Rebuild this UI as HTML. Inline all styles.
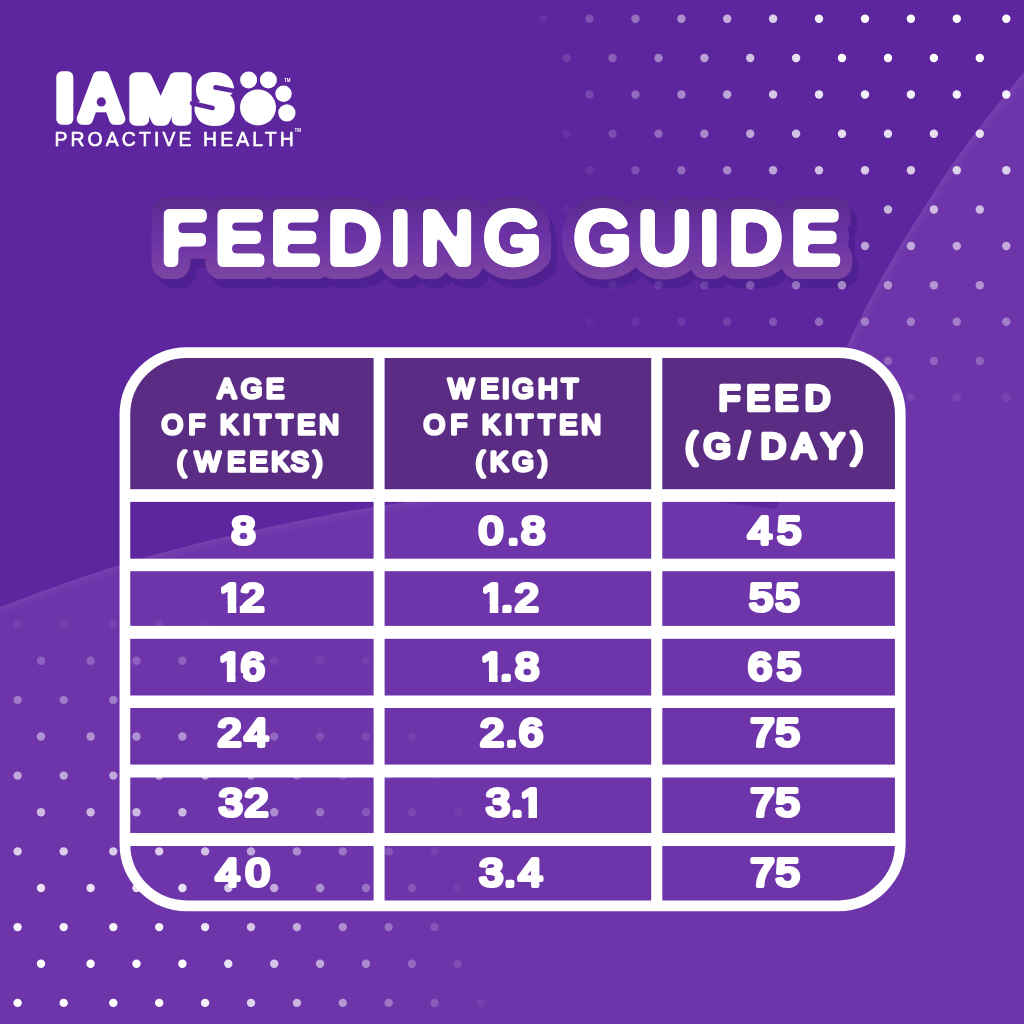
<!DOCTYPE html>
<html lang="en"><head><meta charset="utf-8"><title>IAMS Proactive Health - Feeding Guide</title>
<style>html,body{margin:0;padding:0;background:#5e269e;}body{width:1024px;height:1024px;overflow:hidden}svg text{white-space:pre}</style></head>
<body><svg width="1024" height="1024" viewBox="0 0 1024 1024" style="display:block"><rect width="1024" height="1024" fill="#5e269e"/>
<defs><clipPath id="ca"><path d="M0,607 C60,585 120,560 250,531 C330,514 400,500 470,495 C540,490 620,492 719,502 L776,509 L860,560 L860,1024 L0,1024 Z"/></clipPath><clipPath id="cb"><path d="M1024,72 C986,118 953,160 929,200 C900,243 868,300 847,346 C820,400 795,460 776,509 L760,560 L760,1024 L1024,1024 Z"/></clipPath></defs>
<path d="M0,607 C60,585 120,560 250,531 C330,514 400,500 470,495 C540,490 620,492 719,502 L776,509 L860,560 L860,1024 L0,1024 Z" fill="#6e35ab"/><path d="M1024,72 C986,118 953,160 929,200 C900,243 868,300 847,346 C820,400 795,460 776,509 L760,560 L760,1024 L1024,1024 Z" fill="#6e35ab"/>
<g clip-path="url(#ca)" fill="none" stroke="#fff" stroke-opacity="0.014"><path d="M0,607 C60,585 120,560 250,531 C330,514 400,500 470,495" stroke-width="16"/><path d="M0,607 C60,585 120,560 250,531 C330,514 400,500 470,495" stroke-width="10"/><path d="M0,607 C60,585 120,560 250,531 C330,514 400,500 470,495" stroke-width="6"/><path d="M0,607 C60,585 120,560 250,531 C330,514 400,500 470,495" stroke-width="3"/></g>
<g clip-path="url(#cb)" fill="none" stroke="#fff" stroke-opacity="0.014"><path d="M1024,72 C986,118 953,160 929,200 C900,243 868,300 847,346" stroke-width="16"/><path d="M1024,72 C986,118 953,160 929,200 C900,243 868,300 847,346" stroke-width="10"/><path d="M1024,72 C986,118 953,160 929,200 C900,243 868,300 847,346" stroke-width="6"/><path d="M1024,72 C986,118 953,160 929,200 C900,243 868,300 847,346" stroke-width="3"/></g>
<g fill="#fff"><circle cx="1006.3" cy="18.8" r="4.2" opacity="1.00"/><circle cx="956.8" cy="18.8" r="4.2" opacity="1.00"/><circle cx="910.9" cy="18.8" r="4.2" opacity="1.00"/><circle cx="865.0" cy="18.8" r="4.2" opacity="1.00"/><circle cx="819.0" cy="18.8" r="4.2" opacity="0.94"/><circle cx="773.1" cy="18.8" r="4.2" opacity="0.79"/><circle cx="727.2" cy="18.8" r="4.2" opacity="0.64"/><circle cx="681.4" cy="18.8" r="4.2" opacity="0.49"/><circle cx="635.5" cy="18.8" r="4.2" opacity="0.34"/><circle cx="589.5" cy="18.8" r="4.2" opacity="0.20"/><circle cx="543.7" cy="18.8" r="4.2" opacity="0.05"/><circle cx="979.8" cy="58.0" r="4.2" opacity="1.00"/><circle cx="933.9" cy="58.0" r="4.2" opacity="1.00"/><circle cx="888.0" cy="58.0" r="4.2" opacity="1.00"/><circle cx="842.0" cy="58.0" r="4.2" opacity="1.00"/><circle cx="796.1" cy="58.0" r="4.2" opacity="0.86"/><circle cx="750.2" cy="58.0" r="4.2" opacity="0.71"/><circle cx="704.4" cy="58.0" r="4.2" opacity="0.57"/><circle cx="658.5" cy="58.0" r="4.2" opacity="0.42"/><circle cx="612.5" cy="58.0" r="4.2" opacity="0.27"/><circle cx="566.7" cy="58.0" r="4.2" opacity="0.12"/><circle cx="1006.3" cy="94.5" r="4.2" opacity="0.94"/><circle cx="956.8" cy="94.5" r="4.2" opacity="0.94"/><circle cx="910.9" cy="94.5" r="4.2" opacity="0.94"/><circle cx="865.0" cy="94.5" r="4.2" opacity="0.94"/><circle cx="819.0" cy="94.5" r="4.2" opacity="0.88"/><circle cx="773.1" cy="94.5" r="4.2" opacity="0.74"/><circle cx="727.2" cy="94.5" r="4.2" opacity="0.59"/><circle cx="681.4" cy="94.5" r="4.2" opacity="0.45"/><circle cx="635.5" cy="94.5" r="4.2" opacity="0.31"/><circle cx="589.5" cy="94.5" r="4.2" opacity="0.16"/><circle cx="979.8" cy="133.8" r="4.2" opacity="0.85"/><circle cx="933.9" cy="133.8" r="4.2" opacity="0.85"/><circle cx="888.0" cy="133.8" r="4.2" opacity="0.85"/><circle cx="842.0" cy="133.8" r="4.2" opacity="0.85"/><circle cx="796.1" cy="133.8" r="4.2" opacity="0.73"/><circle cx="750.2" cy="133.8" r="4.2" opacity="0.59"/><circle cx="704.4" cy="133.8" r="4.2" opacity="0.45"/><circle cx="658.5" cy="133.8" r="4.2" opacity="0.31"/><circle cx="612.5" cy="133.8" r="4.2" opacity="0.18"/><circle cx="566.7" cy="133.8" r="4.2" opacity="0.05"/><circle cx="1006.3" cy="170.2" r="4.2" opacity="0.77"/><circle cx="956.8" cy="170.2" r="4.2" opacity="0.77"/><circle cx="910.9" cy="170.2" r="4.2" opacity="0.77"/><circle cx="865.0" cy="170.2" r="4.2" opacity="0.77"/><circle cx="819.0" cy="170.2" r="4.2" opacity="0.71"/><circle cx="773.1" cy="170.2" r="4.2" opacity="0.58"/><circle cx="727.2" cy="170.2" r="4.2" opacity="0.45"/><circle cx="681.4" cy="170.2" r="4.2" opacity="0.32"/><circle cx="635.5" cy="170.2" r="4.2" opacity="0.19"/><circle cx="589.5" cy="170.2" r="4.2" opacity="0.07"/><circle cx="979.8" cy="209.5" r="4.2" opacity="0.67"/><circle cx="933.9" cy="209.5" r="4.2" opacity="0.67"/><circle cx="888.0" cy="209.5" r="4.2" opacity="0.67"/><circle cx="842.0" cy="209.5" r="4.2" opacity="0.67"/><circle cx="796.1" cy="209.5" r="4.2" opacity="0.55"/><circle cx="750.2" cy="209.5" r="4.2" opacity="0.43"/><circle cx="704.4" cy="209.5" r="4.2" opacity="0.31"/><circle cx="658.5" cy="209.5" r="4.2" opacity="0.18"/><circle cx="612.5" cy="209.5" r="4.2" opacity="0.09"/><circle cx="566.7" cy="209.5" r="4.2" opacity="0.04"/><circle cx="1006.3" cy="246.0" r="4.2" opacity="0.58"/><circle cx="956.8" cy="246.0" r="4.2" opacity="0.58"/><circle cx="910.9" cy="246.0" r="4.2" opacity="0.58"/><circle cx="865.0" cy="246.0" r="4.2" opacity="0.58"/><circle cx="819.0" cy="246.0" r="4.2" opacity="0.53"/><circle cx="773.1" cy="246.0" r="4.2" opacity="0.41"/><circle cx="727.2" cy="246.0" r="4.2" opacity="0.29"/><circle cx="681.4" cy="246.0" r="4.2" opacity="0.18"/><circle cx="635.5" cy="246.0" r="4.2" opacity="0.10"/><circle cx="589.5" cy="246.0" r="4.2" opacity="0.06"/><circle cx="979.8" cy="285.2" r="4.2" opacity="0.47"/><circle cx="933.9" cy="285.2" r="4.2" opacity="0.47"/><circle cx="888.0" cy="285.2" r="4.2" opacity="0.47"/><circle cx="1006.3" cy="321.8" r="4.2" opacity="0.36"/><circle cx="956.8" cy="321.8" r="4.2" opacity="0.36"/><circle cx="910.9" cy="321.8" r="4.2" opacity="0.36"/><circle cx="865.0" cy="321.8" r="4.2" opacity="0.36"/><circle cx="819.0" cy="321.8" r="4.2" opacity="0.32"/><circle cx="773.1" cy="321.8" r="4.2" opacity="0.22"/><circle cx="727.2" cy="321.8" r="4.2" opacity="0.12"/><circle cx="681.4" cy="321.8" r="4.2" opacity="0.09"/><circle cx="635.5" cy="321.8" r="4.2" opacity="0.06"/><circle cx="589.5" cy="321.8" r="4.2" opacity="0.04"/><circle cx="979.8" cy="361.0" r="4.2" opacity="0.23"/><circle cx="933.9" cy="361.0" r="4.2" opacity="0.23"/><circle cx="888.0" cy="361.0" r="4.2" opacity="0.23"/><circle cx="842.0" cy="361.0" r="4.2" opacity="0.23"/><circle cx="796.1" cy="361.0" r="4.2" opacity="0.15"/><circle cx="750.2" cy="361.0" r="4.2" opacity="0.08"/><circle cx="704.4" cy="361.0" r="4.2" opacity="0.07"/><circle cx="658.5" cy="361.0" r="4.2" opacity="0.05"/><circle cx="612.5" cy="361.0" r="4.2" opacity="0.03"/><circle cx="1006.3" cy="397.5" r="4.2" opacity="0.08"/><circle cx="956.8" cy="397.5" r="4.2" opacity="0.08"/><circle cx="910.9" cy="397.5" r="4.2" opacity="0.08"/><circle cx="865.0" cy="397.5" r="4.2" opacity="0.08"/><circle cx="819.0" cy="397.5" r="4.2" opacity="0.04"/><circle cx="773.1" cy="397.5" r="4.2" opacity="0.03"/><circle cx="17.6" cy="1002.9" r="4.2" opacity="1.00"/><circle cx="63.7" cy="1002.9" r="4.2" opacity="1.00"/><circle cx="113.3" cy="1002.9" r="4.2" opacity="1.00"/><circle cx="159.2" cy="1002.9" r="4.2" opacity="1.00"/><circle cx="205.1" cy="1002.9" r="4.2" opacity="0.94"/><circle cx="251.0" cy="1002.9" r="4.2" opacity="0.79"/><circle cx="296.9" cy="1002.9" r="4.2" opacity="0.64"/><circle cx="342.8" cy="1002.9" r="4.2" opacity="0.49"/><circle cx="388.7" cy="1002.9" r="4.2" opacity="0.34"/><circle cx="434.6" cy="1002.9" r="4.2" opacity="0.19"/><circle cx="480.5" cy="1002.9" r="4.2" opacity="0.05"/><circle cx="41.0" cy="963.8" r="4.2" opacity="1.00"/><circle cx="90.6" cy="963.8" r="4.2" opacity="1.00"/><circle cx="136.5" cy="963.8" r="4.2" opacity="1.00"/><circle cx="182.4" cy="963.8" r="4.2" opacity="1.00"/><circle cx="228.3" cy="963.8" r="4.2" opacity="0.86"/><circle cx="274.2" cy="963.8" r="4.2" opacity="0.71"/><circle cx="320.1" cy="963.8" r="4.2" opacity="0.56"/><circle cx="366.0" cy="963.8" r="4.2" opacity="0.42"/><circle cx="411.9" cy="963.8" r="4.2" opacity="0.27"/><circle cx="457.8" cy="963.8" r="4.2" opacity="0.12"/><circle cx="17.6" cy="927.1" r="4.2" opacity="0.94"/><circle cx="63.7" cy="927.1" r="4.2" opacity="0.94"/><circle cx="113.3" cy="927.1" r="4.2" opacity="0.94"/><circle cx="159.2" cy="927.1" r="4.2" opacity="0.94"/><circle cx="205.1" cy="927.1" r="4.2" opacity="0.88"/><circle cx="251.0" cy="927.1" r="4.2" opacity="0.73"/><circle cx="296.9" cy="927.1" r="4.2" opacity="0.59"/><circle cx="342.8" cy="927.1" r="4.2" opacity="0.44"/><circle cx="388.7" cy="927.1" r="4.2" opacity="0.30"/><circle cx="434.6" cy="927.1" r="4.2" opacity="0.16"/><circle cx="41.0" cy="888.0" r="4.2" opacity="0.85"/><circle cx="90.6" cy="888.0" r="4.2" opacity="0.85"/><circle cx="136.5" cy="888.0" r="4.2" opacity="0.85"/><circle cx="182.4" cy="888.0" r="4.2" opacity="0.85"/><circle cx="228.3" cy="888.0" r="4.2" opacity="0.72"/><circle cx="274.2" cy="888.0" r="4.2" opacity="0.58"/><circle cx="320.1" cy="888.0" r="4.2" opacity="0.45"/><circle cx="366.0" cy="888.0" r="4.2" opacity="0.31"/><circle cx="411.9" cy="888.0" r="4.2" opacity="0.17"/><circle cx="457.8" cy="888.0" r="4.2" opacity="0.05"/><circle cx="17.6" cy="851.4" r="4.2" opacity="0.76"/><circle cx="63.7" cy="851.4" r="4.2" opacity="0.76"/><circle cx="113.3" cy="851.4" r="4.2" opacity="0.76"/><circle cx="159.2" cy="851.4" r="4.2" opacity="0.76"/><circle cx="205.1" cy="851.4" r="4.2" opacity="0.70"/><circle cx="251.0" cy="851.4" r="4.2" opacity="0.57"/><circle cx="296.9" cy="851.4" r="4.2" opacity="0.44"/><circle cx="342.8" cy="851.4" r="4.2" opacity="0.31"/><circle cx="388.7" cy="851.4" r="4.2" opacity="0.18"/><circle cx="434.6" cy="851.4" r="4.2" opacity="0.07"/><circle cx="41.0" cy="812.3" r="4.2" opacity="0.66"/><circle cx="90.6" cy="812.3" r="4.2" opacity="0.66"/><circle cx="136.5" cy="812.3" r="4.2" opacity="0.66"/><circle cx="182.4" cy="812.3" r="4.2" opacity="0.66"/><circle cx="228.3" cy="812.3" r="4.2" opacity="0.55"/><circle cx="274.2" cy="812.3" r="4.2" opacity="0.43"/><circle cx="320.1" cy="812.3" r="4.2" opacity="0.30"/><circle cx="366.0" cy="812.3" r="4.2" opacity="0.18"/><circle cx="411.9" cy="812.3" r="4.2" opacity="0.09"/><circle cx="457.8" cy="812.3" r="4.2" opacity="0.04"/><circle cx="17.6" cy="775.6" r="4.2" opacity="0.57"/><circle cx="63.7" cy="775.6" r="4.2" opacity="0.57"/><circle cx="113.3" cy="775.6" r="4.2" opacity="0.57"/><circle cx="159.2" cy="775.6" r="4.2" opacity="0.57"/><circle cx="205.1" cy="775.6" r="4.2" opacity="0.52"/><circle cx="251.0" cy="775.6" r="4.2" opacity="0.40"/><circle cx="296.9" cy="775.6" r="4.2" opacity="0.29"/><circle cx="342.8" cy="775.6" r="4.2" opacity="0.17"/><circle cx="388.7" cy="775.6" r="4.2" opacity="0.10"/><circle cx="434.6" cy="775.6" r="4.2" opacity="0.06"/><circle cx="41.0" cy="736.5" r="4.2" opacity="0.46"/><circle cx="90.6" cy="736.5" r="4.2" opacity="0.46"/><circle cx="136.5" cy="736.5" r="4.2" opacity="0.46"/><circle cx="182.4" cy="736.5" r="4.2" opacity="0.46"/><circle cx="228.3" cy="736.5" r="4.2" opacity="0.36"/><circle cx="274.2" cy="736.5" r="4.2" opacity="0.25"/><circle cx="320.1" cy="736.5" r="4.2" opacity="0.14"/><circle cx="366.0" cy="736.5" r="4.2" opacity="0.10"/><circle cx="411.9" cy="736.5" r="4.2" opacity="0.06"/><circle cx="17.6" cy="699.9" r="4.2" opacity="0.35"/><circle cx="63.7" cy="699.9" r="4.2" opacity="0.35"/><circle cx="113.3" cy="699.9" r="4.2" opacity="0.35"/><circle cx="159.2" cy="699.9" r="4.2" opacity="0.35"/><circle cx="205.1" cy="699.9" r="4.2" opacity="0.31"/><circle cx="251.0" cy="699.9" r="4.2" opacity="0.21"/><circle cx="296.9" cy="699.9" r="4.2" opacity="0.11"/><circle cx="342.8" cy="699.9" r="4.2" opacity="0.09"/><circle cx="388.7" cy="699.9" r="4.2" opacity="0.06"/><circle cx="434.6" cy="699.9" r="4.2" opacity="0.03"/><circle cx="41.0" cy="660.8" r="4.2" opacity="0.22"/><circle cx="90.6" cy="660.8" r="4.2" opacity="0.22"/><circle cx="136.5" cy="660.8" r="4.2" opacity="0.22"/><circle cx="182.4" cy="660.8" r="4.2" opacity="0.22"/><circle cx="228.3" cy="660.8" r="4.2" opacity="0.14"/><circle cx="274.2" cy="660.8" r="4.2" opacity="0.08"/><circle cx="320.1" cy="660.8" r="4.2" opacity="0.06"/><circle cx="366.0" cy="660.8" r="4.2" opacity="0.05"/><circle cx="17.6" cy="624.1" r="4.2" opacity="0.07"/><circle cx="63.7" cy="624.1" r="4.2" opacity="0.07"/><circle cx="113.3" cy="624.1" r="4.2" opacity="0.07"/><circle cx="159.2" cy="624.1" r="4.2" opacity="0.07"/><circle cx="205.1" cy="624.1" r="4.2" opacity="0.03"/></g>
<defs><clipPath id="tc"><rect x="124.9" y="352.6" width="775.4" height="553.2" rx="62"/></clipPath></defs>
<g clip-path="url(#tc)"><rect x="119" y="347" width="788" height="148" fill="#5a2c84"/></g>
<g fill="#fff">
<rect x="124" y="489.2" width="777" height="12.7"/>
<rect x="124" y="558.7" width="777" height="12.5"/>
<rect x="124" y="625.9" width="777" height="12.9"/>
<rect x="124" y="695.5" width="777" height="12.5"/>
<rect x="124" y="764.6" width="777" height="12.9"/>
<rect x="124" y="833" width="777" height="13.0"/>
<rect x="373.6" y="352" width="11" height="554"/><rect x="651.2" y="352" width="11.1" height="554"/>
</g>
<rect x="124.9" y="352.6" width="775.4" height="553.2" rx="62" fill="none" stroke="#fff" stroke-width="10.7"/>
<g fill="#fff" stroke="#fff" stroke-linejoin="round" stroke-linecap="round">
<g transform="translate(0,397.58) scale(1.0000,1.0386)"><text x="217.88 240.98 265.98" y="0" font-family="'Liberation Sans', sans-serif" font-weight="normal" font-size="27.3" stroke-width="3.5">AGE</text></g>
<g transform="translate(0,434.18) scale(1.0000,1.0386)"><text x="161.86 188.59 204.31 220.04 242.93 254.28 276.23 297.18 319.14" y="0" font-family="'Liberation Sans', sans-serif" font-weight="normal" font-size="27.3" stroke-width="3.5">OF KITTEN</text></g>
<g transform="translate(0,470.88) scale(1.0000,1.0386)"><text x="176.94 194.70 227.28 249.38 271.34 290.69 313.51" y="0" font-family="'Liberation Sans', sans-serif" font-weight="normal" font-size="27.3" stroke-width="3.5">(WEEKS)</text></g>
<g transform="translate(0,397.98) scale(1.0000,1.0386)"><text x="448.20 480.48 501.98 512.58 537.89 561.48" y="0" font-family="'Liberation Sans', sans-serif" font-weight="normal" font-size="27.3" stroke-width="3.5">WEIGHT</text></g>
<g transform="translate(0,434.48) scale(1.0000,1.0386)"><text x="423.86 450.59 466.31 482.04 504.93 516.28 538.23 559.18 581.14" y="0" font-family="'Liberation Sans', sans-serif" font-weight="normal" font-size="27.3" stroke-width="3.5">OF KITTEN</text></g>
<g transform="translate(0,471.48) scale(1.0000,1.0386)"><text x="475.74 489.89 512.58 538.56" y="0" font-family="'Liberation Sans', sans-serif" font-weight="normal" font-size="27.3" stroke-width="3.5">(KG)</text></g>
<g transform="translate(0,409.85) scale(1.0000,0.9985)"><text x="718.64 746.58 774.78 804.95" y="0" font-family="'Liberation Sans', sans-serif" font-weight="normal" font-size="34.7" stroke-width="4.5">FEED</text></g>
<g transform="translate(0,458.35) scale(1.0000,0.9985)"><text x="685.60 703.87 739.50 760.75 792.56 821.20 851.54" y="0" font-family="'Liberation Sans', sans-serif" font-weight="normal" font-size="34.7" stroke-width="4.5">(G/DAY)</text></g>
<g transform="translate(0,544.19) scale(1.1200,1.0039)"><text x="206.79" y="0" font-family="'Liberation Sans', sans-serif" font-weight="normal" font-size="38.4" stroke-width="4.2">8</text></g>
<g transform="translate(0,610.89) scale(1.1200,1.0039)"><text x="195.85 214.64" y="0" font-family="'Liberation Sans', sans-serif" font-weight="normal" font-size="38.4" stroke-width="4.2">12</text><rect x="195.11" y="-6.58" width="8.24" height="9.48" fill="#6e35ab" stroke="none"/><rect x="211.01" y="-6.58" width="3.11" height="9.48" fill="#6e35ab" stroke="none"/></g>
<g transform="translate(0,679.69) scale(1.1200,1.0039)"><text x="195.09 214.89" y="0" font-family="'Liberation Sans', sans-serif" font-weight="normal" font-size="38.4" stroke-width="4.2">16</text><rect x="194.35" y="-6.58" width="8.24" height="9.48" fill="#6e35ab" stroke="none"/><rect x="210.25" y="-6.58" width="6.75" height="9.48" fill="#6e35ab" stroke="none"/></g>
<g transform="translate(0,745.89) scale(1.1200,1.0039)"><text x="194.14 218.34" y="0" font-family="'Liberation Sans', sans-serif" font-weight="normal" font-size="38.4" stroke-width="4.2">24</text></g>
<g transform="translate(0,816.09) scale(1.1200,1.0039)"><text x="195.23 218.39" y="0" font-family="'Liberation Sans', sans-serif" font-weight="normal" font-size="38.4" stroke-width="4.2">32</text></g>
<g transform="translate(0,886.39) scale(1.1200,1.0039)"><text x="192.67 219.35" y="0" font-family="'Liberation Sans', sans-serif" font-weight="normal" font-size="38.4" stroke-width="4.2">40</text></g>
<g transform="translate(0,544.19) scale(1.1200,1.0039)"><text x="427.79 452.97 465.50" y="0" font-family="'Liberation Sans', sans-serif" font-weight="normal" font-size="38.4" stroke-width="4.2">0.8</text></g>
<g transform="translate(0,610.89) scale(1.1200,1.0039)"><text x="429.78 447.48 459.68" y="0" font-family="'Liberation Sans', sans-serif" font-weight="normal" font-size="38.4" stroke-width="4.2">1.2</text><rect x="429.04" y="-6.58" width="8.24" height="9.48" fill="#6e35ab" stroke="none"/><rect x="444.94" y="-6.58" width="3.59" height="9.48" fill="#6e35ab" stroke="none"/></g>
<g transform="translate(0,679.69) scale(1.1200,1.0039)"><text x="429.11 446.81 459.96" y="0" font-family="'Liberation Sans', sans-serif" font-weight="normal" font-size="38.4" stroke-width="4.2">1.8</text><rect x="428.37" y="-6.58" width="8.24" height="9.48" fill="#6e35ab" stroke="none"/><rect x="444.27" y="-6.58" width="3.59" height="9.48" fill="#6e35ab" stroke="none"/></g>
<g transform="translate(0,745.89) scale(1.1200,1.0039)"><text x="428.61 451.32 463.51" y="0" font-family="'Liberation Sans', sans-serif" font-weight="normal" font-size="38.4" stroke-width="4.2">2.6</text></g>
<g transform="translate(0,816.09) scale(1.1200,1.0039)"><text x="433.89 456.18 464.33" y="0" font-family="'Liberation Sans', sans-serif" font-weight="normal" font-size="38.4" stroke-width="4.2">3.1</text><rect x="465.80" y="-6.58" width="6.03" height="9.48" fill="#6e35ab" stroke="none"/><rect x="479.49" y="-6.58" width="7.01" height="9.48" fill="#6e35ab" stroke="none"/></g>
<g transform="translate(0,886.39) scale(1.1200,1.0039)"><text x="427.86 450.02 462.85" y="0" font-family="'Liberation Sans', sans-serif" font-weight="normal" font-size="38.4" stroke-width="4.2">3.4</text></g>
<g transform="translate(0,544.39) scale(1.1200,1.0039)"><text x="667.80 694.00" y="0" font-family="'Liberation Sans', sans-serif" font-weight="normal" font-size="38.4" stroke-width="4.2">45</text></g>
<g transform="translate(0,611.49) scale(1.1200,1.0039)"><text x="669.09 692.52" y="0" font-family="'Liberation Sans', sans-serif" font-weight="normal" font-size="38.4" stroke-width="4.2">55</text></g>
<g transform="translate(0,680.19) scale(1.1200,1.0039)"><text x="667.97 693.82" y="0" font-family="'Liberation Sans', sans-serif" font-weight="normal" font-size="38.4" stroke-width="4.2">65</text></g>
<g transform="translate(0,746.39) scale(1.1200,1.0039)"><text x="670.11 692.61" y="0" font-family="'Liberation Sans', sans-serif" font-weight="normal" font-size="38.4" stroke-width="4.2">75</text></g>
<g transform="translate(0,816.19) scale(1.1200,1.0039)"><text x="670.11 692.61" y="0" font-family="'Liberation Sans', sans-serif" font-weight="normal" font-size="38.4" stroke-width="4.2">75</text></g>
<g transform="translate(0,886.49) scale(1.1200,1.0039)"><text x="670.11 692.61" y="0" font-family="'Liberation Sans', sans-serif" font-weight="normal" font-size="38.4" stroke-width="4.2">75</text></g>
</g>
<defs><linearGradient id="hg" gradientUnits="userSpaceOnUse" x1="0" y1="-66" x2="0" y2="16"><stop offset="0" stop-color="#592a8a"/><stop offset="0.45" stop-color="#6b31a6"/><stop offset="1" stop-color="#7c45a2"/></linearGradient></defs>
<defs><filter id="sh" filterUnits="userSpaceOnUse" x="130" y="-90" width="760" height="150" color-interpolation-filters="sRGB"><feFlood flood-color="#4f2092"/><feComposite in2="SourceAlpha" operator="in" result="s"/><feOffset in="s" dx="2" dy="3" result="s1"/><feOffset in="s" dx="4" dy="6" result="s2"/><feOffset in="s" dx="6" dy="9" result="s3"/><feMerge><feMergeNode in="s3"/><feMergeNode in="s2"/><feMergeNode in="s1"/><feMergeNode in="SourceGraphic"/></feMerge></filter><filter id="rnd" x="-5%" y="-30%" width="110%" height="160%" color-interpolation-filters="sRGB"><feGaussianBlur stdDeviation="2.2"/><feComponentTransfer><feFuncA type="linear" slope="7" intercept="-3"/></feComponentTransfer></filter></defs>
<g transform="translate(0,263.20) scale(1.0000,1.0000)"><text stroke-linejoin="round" stroke-linecap="round" fill="url(#hg)" stroke="url(#hg)" stroke-width="32.2" filter="url(#sh)" aria-hidden="true" x="161.83 215.57 271.07 328.15 390.13 421.10 484.31 529.46 574.61 638.64 699.28 729.35 791.32" y="0" font-family="'Liberation Sans', sans-serif" font-weight="normal" font-size="72.2" >FEEDING GUIDE</text></g>
<g fill="#fff"><circle cx="842.0" cy="285.2" r="4.2" opacity="0.47"/><circle cx="796.1" cy="285.2" r="4.2" opacity="0.37"/><circle cx="750.2" cy="285.2" r="4.2" opacity="0.26"/><circle cx="704.4" cy="285.2" r="4.2" opacity="0.15"/><circle cx="658.5" cy="285.2" r="4.2" opacity="0.10"/><circle cx="612.5" cy="285.2" r="4.2" opacity="0.06"/></g>
<g transform="translate(0,263.20) scale(1.0000,1.0000)"><text stroke-linejoin="round" stroke-linecap="round" fill="#fff" stroke="#fff" stroke-width="7.8" filter="url(#rnd)" x="161.83 215.57 271.07 328.15 390.13 421.10 484.31 529.46 574.61 638.64 699.28 729.35 791.32" y="0" font-family="'Liberation Sans', sans-serif" font-weight="normal" font-size="72.2" >FEEDING GUIDE</text></g>
<g fill="#fff" stroke="#fff" stroke-linejoin="round" stroke-linecap="round">
<text font-family="'Liberation Sans', sans-serif" font-weight="normal" aria-label="IAMS"><tspan x="56.41" y="119.41" font-size="60.7" stroke-width="11.5" textLength="16.64" lengthAdjust="spacingAndGlyphs">I</tspan><tspan x="82.00" y="119.41" font-size="60.7" stroke-width="11.5" textLength="38.02" lengthAdjust="spacingAndGlyphs">A</tspan><tspan x="130.16" y="119.51" font-size="60.7" stroke-width="11.5" textLength="60.45" lengthAdjust="spacingAndGlyphs">M</tspan><tspan x="198.77" y="117.90" font-size="55" stroke-width="15" textLength="31.72" lengthAdjust="spacingAndGlyphs">S</tspan></text>
</g>
<g stroke="#5e269e" stroke-linecap="round" fill="none"><path d="M215.6,87.4 L237,91.5" stroke-width="4.8"/><path d="M192,103.3 L212.6,108" stroke-width="4.6"/></g>
<circle cx="101.3" cy="101.9" r="4.6" fill="#5e269e"/>
<g fill="#fff"><circle cx="258" cy="107.4" r="18"/><circle cx="248.6" cy="80" r="8.5"/><circle cx="268.4" cy="80" r="8.5"/><circle cx="283.5" cy="93.7" r="8.2"/><circle cx="286.9" cy="112.9" r="8.6"/></g>
<g fill="#fff" stroke="#fff" stroke-linejoin="round">
<text transform="translate(54.45,145.89) scale(0.9532,1.0201)" font-family="'Liberation Sans', sans-serif" font-weight="normal" font-size="20.3" letter-spacing="3.3" stroke-width="0.6">PROACTIVE HEALTH</text>
</g>
<g fill="#fff" font-family="'Liberation Sans', sans-serif" font-weight="bold" font-size="4.5"><text x="284" y="82">TM</text><text x="294.5" y="131.5">TM</text></g></svg></body></html>
